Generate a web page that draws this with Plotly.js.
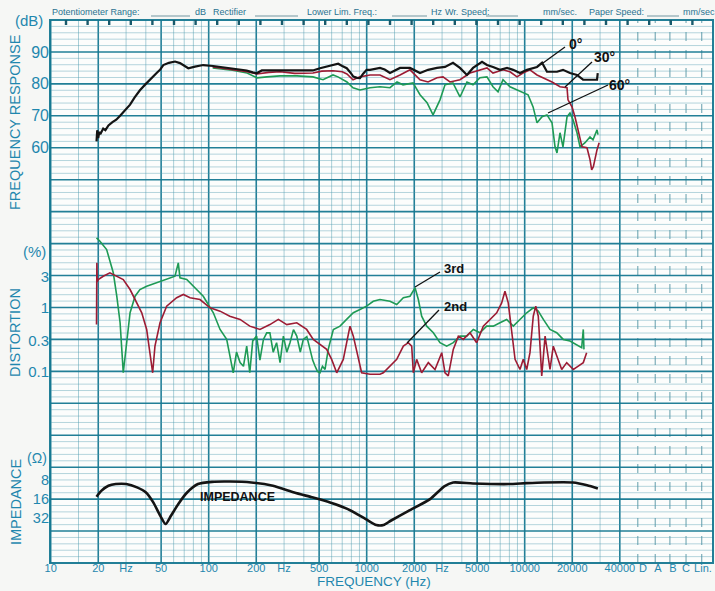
<!DOCTYPE html>
<html><head><meta charset="utf-8">
<script src="https://cdn.plot.ly/plotly-3.0.1.min.js"></script>
<style>html,body{margin:0;padding:0;background:#f6f7f5;}#chart{width:715px;height:591px;}</style>
</head><body><div id="chart"></div>
<script>
// ---------- DATA ----------
// Frequency response, 0 degrees (Hz, dB)
const fr0Hz = [19.5,19.7,20.0,20.3,20.6,21.5,22.2,23.2,24.6,26.0,27.5,29.5,31.8,34.0,36.7,40.0,43.5,47.0,49.2,51.6,56.0,61.2,65.8,70.0,74.3,81.9,92.3,106.7,120,136,155,174,190,201,217,250,283,350,400,456,506,560,613,660,700,748,790,823,870,907,950,999,1050,1214,1300,1404,1625,1880,2175,2445,2787,3131,3517,3893,4310,4710,5370,5770,6300,6980,7730,8440,9340,10340,11970,12880,13840,16010,17470,19350,21430,23400,25900,28700,29000];
const fr0dB = [62.0,65.5,63.0,65.0,64.2,66.0,65.5,67.0,68.0,68.8,70.0,71.8,73.5,75.8,78.0,80.0,82.0,83.5,84.4,85.9,86.6,87.0,86.5,85.6,84.9,85.4,85.9,85.6,85.3,84.9,84.5,84.2,83.6,83.3,84.2,84.2,84.2,84.1,84.2,84.2,84.9,85.5,85.9,86.3,85.6,84.9,83.5,82.3,81.9,81.8,83.2,84.4,84.4,85.0,84.5,83.4,85.0,85.0,83.4,84.4,85.0,85.3,86.6,85.0,82.8,85.0,86.9,85.9,85.3,84.4,85.0,84.4,83.4,84.4,85.3,86.6,83.8,83.8,84.4,83.4,82.8,81.3,81.3,81.3,83.4];
// 30 degrees
const fr30Hz = [106,136,175,202,240,283,350,457,520,612,700,750,819,907,999,1050,1214,1404,1625,1880,2175,2445,2787,3040,3366,3894,4505,5212,5770,6300,7290,8071,8940,9750,10800,11970,13070,14890,16730,18530,18800,19920,20800,21740,23060,24790,25900,26540,27200,28700,29600];
const fr30dB = [85.3,84.6,83.8,83.1,83.6,83.8,83.3,83.4,84.0,84.1,83.8,83.1,81.3,82.2,82.5,82.8,82.8,81.3,82.8,84.4,81.3,80.6,81.9,82.2,80.6,81.3,83.4,84.4,85.0,83.4,84.4,83.8,82.2,83.4,84.4,82.8,81.9,80.6,79.1,78.8,75.0,72.8,69.7,65.6,60.3,60.0,56.3,53.1,54.1,59.4,61.6];
// 60 degrees
const fr60Hz = [106,136,175,202,234,283,362,457,529,612,658,750,819,907,1050,1214,1404,1556,1698,1965,2175,2410,2630,2910,3130,3515,3894,4310,4710,5212,5770,6300,6780,7290,8071,8940,9750,10500,11300,11970,12880,13840,14890,15560,16010,16730,17470,18530,19350,20230,21430,22390,24100,25900,27050,28700,29100];
const fr60dB = [85.0,84.4,83.4,81.9,82.2,82.5,82.5,82.2,81.3,82.8,82.2,80.6,78.8,78.1,78.8,79.1,78.8,80.6,79.7,80.3,76.6,74.1,70.3,75.0,79.7,80.3,75.9,80.6,79.7,81.9,82.2,79.1,77.5,81.3,79.1,78.1,77.5,76.6,72.8,67.8,69.7,70.3,67.8,60.3,58.4,64.7,60.3,69.7,70.9,68.8,64.7,60.3,61.6,63.4,62.5,65.6,64.1];
// Distortion, 3rd harmonic (Hz, %)
const d3Hz = [19.5,20.5,22.6,24.9,26.2,27.5,28.8,30.3,31.8,34.2,36.7,40.5,46.9,54.2,61.2,64.2,65.8,72.6,80,92.4,107,118,130,136,143,150,158,166,174,182,190,201,211,222,233,244,256,269,283,297,312,327,344,361,380,397,418,438,455,471,488,506,525,545,571,615,678,746,823,907,998,1101,1214,1404,1549,1706,1880,2023,2123,2228,2398,2642,2910,3207,3532,3894,4295,4730,5212,5745,6330,6976,7690,8470,9338,10300,11330,12190,13120,14460,15950,17540,19350,21340,22950,23490,23720];
const d3Pct = [12.3,10.9,8.06,3.49,1.5,0.577,0.095,0.316,0.826,1.5,1.91,2.15,2.43,2.74,3.08,4.99,2.91,2.74,2.15,1.5,0.826,0.453,0.316,0.174,0.095,0.2,0.137,0.12,0.248,0.095,0.3,0.356,0.15,0.316,0.4,0.402,0.2,0.281,0.137,0.356,0.2,0.281,0.45,0.356,0.2,0.316,0.35,0.221,0.15,0.121,0.1,0.095,0.12,0.107,0.221,0.453,0.51,0.65,0.826,0.93,1.05,1.25,1.33,1.25,1.11,1.42,1.5,2.03,1.33,0.73,0.51,0.402,0.281,0.248,0.281,0.356,0.356,0.453,0.402,0.51,0.51,0.577,0.65,0.51,0.65,0.826,0.99,0.876,0.65,0.453,0.402,0.316,0.298,0.264,0.235,0.453,0.221];
// Distortion, 2nd harmonic (Hz, %)
const d2Hz = [19.5,19.6,19.7,20.0,21.5,23.7,26.2,28.8,31.8,35.0,37.7,40.5,42.5,44.2,45.7,49.2,54.2,62.7,69.1,76.2,88.1,102,118,136,158,182,211,244,276,312,361,417,459,506,558,600,646,711,746,784,823,885,929,1050,1214,1274,1404,1549,1706,1834,1927,1973,2071,2228,2455,2706,2985,3131,3283,3532,3802,4085,4505,4966,5470,6030,6650,7150,7500,7870,8275,8690,9338,9795,10300,10800,11330,11750,12190,12820,13460,14460,15170,15950,17150,18450,20320,21830,23490,24660];
const d2Pct = [0.54,5.0,2.5,2.74,3.08,3.49,3.08,2.74,1.91,1.18,0.826,0.453,0.196,0.095,0.248,0.577,1.05,1.42,1.6,1.42,1.33,0.99,0.876,0.73,0.65,0.51,0.453,0.54,0.65,0.54,0.577,0.453,0.316,0.264,0.221,0.154,0.095,0.154,0.281,0.51,0.356,0.154,0.095,0.09,0.09,0.095,0.121,0.154,0.248,0.281,0.248,0.095,0.154,0.095,0.137,0.107,0.196,0.095,0.085,0.221,0.356,0.316,0.402,0.281,0.51,0.65,0.826,1.18,1.8,1.18,0.453,0.154,0.107,0.154,0.107,0.196,0.73,1.05,0.73,0.085,0.356,0.107,0.248,0.174,0.107,0.137,0.107,0.121,0.137,0.196];
// Impedance (Hz, ohm)
const impHz = [19.5,20.9,23.2,25.8,30.1,35.2,40.1,44.6,49.4,53.4,57.7,64.1,73,85.5,105,136,186,255,348,451,586,760,986,1151,1279,1419,1841,2518,3097,3525,4700,7910,10250,13300,20180,24830,29040];
const impOhm = [14.7,11.9,9.9,9.3,9.3,10.5,12.6,18,29.2,39.3,29.2,19.2,12.6,9.3,8.6,8.5,8.8,9.9,12.6,15,18,22.9,32.9,40.7,40.7,34.9,24.4,16,10.1,8.8,9.1,9.3,9.0,8.8,8.8,9.7,10.9];

// Tick labels
const freqTickVals = [10,20,30,50,100,200,300,500,1000,2000,3000,5000,10000,20000,40000,56100,69800,86850,105000,134400];
const freqTickText = ["10","20","Hz","50","100","200","Hz","500","1000","2000","Hz","5000","10000","20000","40000","D","A","B","C","Lin."];
const dbTicks = [90,80,70,60];
const distTicks = [3,1,0.3,0.1];
const distTickText = ["3","1","0.3","0.1"];
const impTicks = [8,16,32];
const impTickText = ["8","16","32"];

// ---------- STYLE / LAYOUT ----------
const TEAL = '#1f87ae';
const GMAJ = 'rgba(22,120,145,0.95)';
const GMIN = 'rgba(80,155,175,0.6)';
const FONT = '"Liberation Sans", Arial, Helvetica, sans-serif';
const L = 50, R = 2, T = 20, B = 28, W = 715, H = 591;
const PW = W - L - R, PH = H - T - B;
const PX = x => (x - L) / PW;
const PY = y => 1 - (y - T) / PH;

const shapes = [];
// vertical grid
const decades = [10,100,1000,10000];
const mults = [1,1.5,2,3,4,5,6,7,8,9];
decades.forEach(d => mults.forEach(m => {
  const f = d*m; if (f > 40000) return;
  const thick = (m===1||m===2||m===5) || f===40000;
  shapes.push({type:'line',xref:'x',yref:'paper',x0:f,x1:f,y0:0,y1:1,layer:'below',
    line:{color:thick?GMAJ:GMIN,width:thick?1.6:0.8}});
}));
[52000,67000,83000,105000,132000].forEach(f => shapes.push({type:'line',xref:'x',yref:'paper',x0:f,x1:f,y0:0,y1:1,layer:'below',
  line:{color:'rgba(40,120,140,0.8)',width:0.9,dash:'dash'}}));
// horizontal grid
for (let u=-68; u<100; u+=2) {
  const maj = (u % 10 === 0);
  shapes.push({type:'line',xref:'paper',yref:'y',x0:0,x1:1,y0:u,y1:u,layer:'below',
    line:{color:maj?GMAJ:GMIN,width:maj?1.6:0.7}});
}
// border
shapes.push({type:'rect',xref:'paper',yref:'paper',x0:0,x1:1,y0:0,y1:1,layer:'below',line:{color:GMAJ,width:2}});
// recorder marks on top edge
for (let px=66; px<712; px+=21.6) {
  shapes.push({type:'line',xref:'paper',yref:'paper',x0:PX(px),x1:PX(px),y0:PY(20),y1:PY(25),line:{color:'#185a6c',width:2.4}});
}
// leader lines
const leaders = [[543,63,565,47],[565,87,592,62],[548,113,608,85],[415,287,440,272],[407,343,439,310]];
leaders.forEach(s => shapes.push({type:'line',xref:'paper',yref:'paper',x0:PX(s[0]),y0:PY(s[1]),x1:PX(s[2]),y1:PY(s[3]),line:{color:'#111',width:1.3}}));
// header blanks
[[151,190],[255,298],[392,427],[486,518],[647,679]].forEach(s => shapes.push({type:'line',xref:'paper',yref:'paper',x0:PX(s[0]),x1:PX(s[1]),y0:PY(16),y1:PY(16),line:{color:'#3a6f80',width:0.7}}));

const ann = [];
function txt(t, x, y, o) {
  o = o || {};
  ann.push({text:t,xref:'paper',yref:'paper',x:PX(x),y:PY(y),showarrow:false,
    xanchor:o.xa||'center',yanchor:o.ya||'middle',textangle:o.rot||0,
    font:{family:FONT,size:o.size||14,color:o.color||TEAL}});
}
txt('FREQUENCY RESPONSE', 15, 122, {rot:-90,size:14.5});
txt('DISTORTION', 15, 333, {rot:-90,size:14.5});
txt('IMPEDANCE', 16, 502, {rot:-90,size:14.5});
txt('(dB)', 29, 20, {size:15});
txt('(%)', 34, 251, {size:15});
txt('(Ω)', 37, 458, {size:14});
txt('FREQUENCY (Hz)', 374, 581.5, {size:13.5});
// header
[['Potentiometer Range:',50],['dB',193],['Rectifier',211],['Lower Lim. Freq.:',305],['Hz',429],['Wr.',443],['Speed:',459],['mm/sec.',541],['Paper Speed:',587],['mm/sec',681]]
  .forEach(h => txt(h[0], h[1], 12, {xa:'left',size:9,color:'#2a7391'}));
// curve labels
txt('<b>0°</b>', 575, 44, {size:14,color:'#111'});
txt('<b>30°</b>', 604, 57, {size:14,color:'#111'});
txt('<b>60°</b>', 619, 85, {size:14,color:'#111'});
txt('<b>3rd</b>', 454, 268, {size:13,color:'#111'});
txt('<b>2nd</b>', 455, 306, {size:13,color:'#111'});
txt('<b>IMPEDANCE</b>', 237, 497, {size:12.5,color:'#111'});

const BLACK = '#141414', RED = '#9c1c34', GREEN = '#1e9a55';
const traces = [
  {x:fr60Hz,y:fr60dB,xaxis:'x',yaxis:'y',mode:'lines',line:{color:GREEN,width:1.6},hoverinfo:'skip'},
  {x:fr30Hz,y:fr30dB,xaxis:'x',yaxis:'y',mode:'lines',line:{color:RED,width:1.6},hoverinfo:'skip'},
  {x:fr0Hz,y:fr0dB,xaxis:'x',yaxis:'y',mode:'lines',line:{color:BLACK,width:2.2},hoverinfo:'skip'},
  {x:d3Hz,y:d3Pct,xaxis:'x',yaxis:'y2',mode:'lines',line:{color:GREEN,width:1.6},hoverinfo:'skip'},
  {x:d2Hz,y:d2Pct,xaxis:'x',yaxis:'y2',mode:'lines',line:{color:RED,width:1.6},hoverinfo:'skip'},
  {x:impHz,y:impOhm,xaxis:'x',yaxis:'y3',mode:'lines',line:{color:BLACK,width:2.6,shape:'spline',smoothing:0.6},hoverinfo:'skip'}
];

const layout = {
  width:W, height:H, margin:{l:L,r:R,t:T,b:B},
  paper_bgcolor:'#f6f7f5', plot_bgcolor:'#fcfdfc', showlegend:false,
  font:{family:FONT,color:TEAL},
  xaxis:{type:'log',range:[Math.log10(9.9),5.1918],tickmode:'array',tickvals:freqTickVals,ticktext:freqTickText,
    showgrid:false,zeroline:false,showline:false,ticks:'',ticklabelstandoff:-3,tickfont:{size:11,color:TEAL,family:FONT}},
  yaxis:{range:[-70,100],tickmode:'array',tickvals:dbTicks,ticktext:dbTicks.map(String),showgrid:false,zeroline:false,
    showline:false,ticks:'',tickfont:{size:16,color:TEAL,family:FONT}},
  yaxis2:{overlaying:'y',anchor:'x',side:'left',type:'log',range:[-4,4.5],tickmode:'array',tickvals:distTicks,ticktext:distTickText,
    showgrid:false,zeroline:false,showline:false,ticks:'',tickfont:{size:15,color:TEAL,family:FONT}},
  yaxis3:{overlaying:'y',anchor:'x',side:'left',type:'log',range:[Math.log10(160),Math.log10(16)-7.5],tickmode:'array',
    tickvals:impTicks,ticktext:impTickText,showgrid:false,zeroline:false,showline:false,ticks:'',
    tickfont:{size:14.5,color:TEAL,family:FONT}},
  shapes:shapes, annotations:ann
};
Plotly.newPlot('chart', traces, layout, {staticPlot:true,displayModeBar:false});
</script>
</body></html>
